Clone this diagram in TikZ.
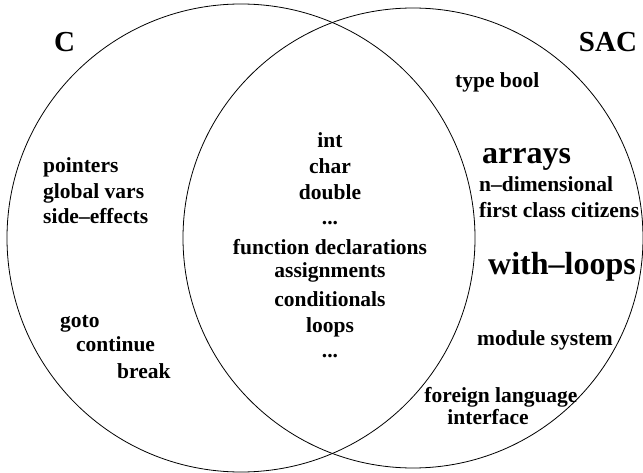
\documentclass[tikz,border=0pt]{standalone}
\usepackage{fontspec}
\setmainfont{Liberation Serif}
\begin{document}
\begin{tikzpicture}[x=1pt,y=-1pt,
  set/.style={draw, circle, line width=0.8pt, inner sep=0pt},
  item/.style={font=\bfseries\fontsize{21.5}{26}\selectfont, inner sep=0pt},
  bigitem/.style={font=\bfseries\fontsize{32}{38}\selectfont, inner sep=0pt},
  setname/.style={font=\bfseries\fontsize{29}{34}\selectfont, inner sep=0pt, anchor=base}]
\useasboundingbox (0,0) rectangle (643,473);

% the two sets
\node[set, minimum size=468pt] (cset) at (241,238) {};
\node[set, minimum size=460pt] (sacset) at (413,238) {};

% set names
\node[setname] (cname) at (64.5,52) {C};
\node[setname] (sacname) at (608,52) {SAC};

% only in C
\node[item, anchor=base west] (ptr) at (43,173) {pointers};
\node[item, anchor=base west] (glob) at (43,199) {global vars};
\node[item, anchor=base west] (side) at (43,224) {side–effects};
\node[item, anchor=base west] (goto) at (60,327) {goto};
\node[item, anchor=base west] (cont) at (76,352) {continue};
\node[item, anchor=base west] (brk) at (117,378) {break};

% common to both
\node[item, anchor=base] (int) at (330,148) {int};
\node[item, anchor=base] (char) at (330,174) {char};
\node[item, anchor=base] (dbl) at (330,200) {double};
\node[item, anchor=base] (dots1) at (330,225) {...};
\node[item, anchor=base] (fun) at (330,255) {function declarations};
\node[item, anchor=base] (asg) at (330,278) {assignments};
\node[item, anchor=base] (cond) at (330,306) {conditionals};
\node[item, anchor=base] (loops) at (330,332) {loops};
\node[item, anchor=base] (dots2) at (330,357) {...};

% only in SAC
\node[item, anchor=base west] (bool) at (455,88) {type bool};
\node[bigitem, anchor=base west] (arr) at (482,164) {arrays};
\node[item, anchor=base west] (ndim) at (479,192) {n–dimensional};
\node[item, anchor=base west] (fcc) at (479,218) {first class citizens};
\node[bigitem, anchor=base west] (wl) at (488,275) {with–loops};
\node[item, anchor=base west] (mod) at (477,345) {module system};
\node[item, anchor=base] (ffi) at (501,402) {foreign language};
\node[item, anchor=base] (iface) at (488,424) {interface};
\end{tikzpicture}
\end{document}
